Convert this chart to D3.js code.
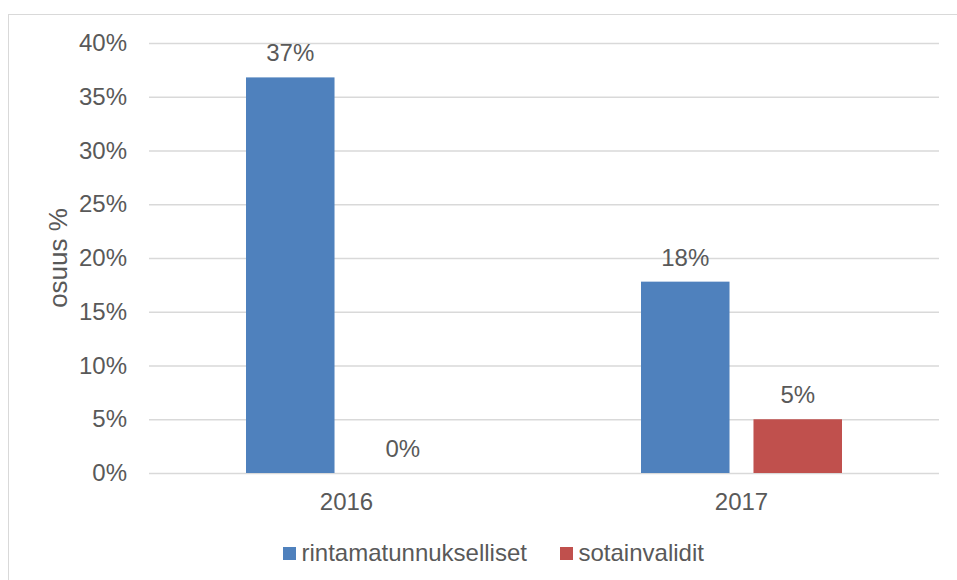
<!DOCTYPE html>
<html>
<head>
<meta charset="utf-8">
<script src="https://cdn.jsdelivr.net/npm/d3@7"></script>
<style>
  body { margin: 0; background: #fff; }
  svg { display: block; }
  text { font-family: "Liberation Sans", Arial, sans-serif; fill: #595959; }
</style>
</head>
<body>
<div id="viz"></div>
<script>
// Data
const years = ["2016", "2017"];
const seriesNames = ["rintamatunnukselliset", "sotainvalidit"];
const rintama = [0.368, 0.178];
const sotainvalidit = [0, 0.05];
const yTicks = [0, 0.05, 0.10, 0.15, 0.20, 0.25, 0.30, 0.35, 0.40];
const colors = ["#4F81BD", "#C0504D"];

// Geometry
const width = 957, height = 580;
const margin = {top: 43, left: 149, right: 18, bottom: 107};
const innerWidth = width - margin.left - margin.right;
const innerHeight = height - margin.top - margin.bottom;
const fontSize = "24px";
const groupWidth = 201;

const svg = d3.select("#viz").append("svg")
  .attr("width", width).attr("height", height);

// chart border (runs off the right and bottom edge)
svg.append("rect")
  .attr("x", 8.5).attr("y", 14.5)
  .attr("width", width + 10).attr("height", height + 10)
  .attr("fill", "none").attr("stroke", "#D9D9D9");

const g = svg.append("g")
  .attr("transform", "translate(" + margin.left + "," + margin.top + ")");

const xScale = d3.scaleBand().domain(years).range([0, innerWidth]);
const xSub = d3.scaleBand().domain(seriesNames)
  .range([0, groupWidth]).paddingInner(0.213);
const yScale = d3.scaleLinear().domain([0, 0.4]).range([innerHeight, 0]);

// gridlines + y labels
const yAxisG = g.append("g")
  .call(d3.axisLeft(yScale).tickValues(yTicks)
    .tickSize(-innerWidth).tickPadding(22)
    .tickFormat(d3.format(".0%")));
yAxisG.select(".domain").remove();
yAxisG.selectAll("line").attr("stroke", "#D9D9D9").attr("stroke-width", 1.3);
yAxisG.selectAll("text").attr("font-size", fontSize).attr("fill", "#595959")
  .attr("font-family", "Liberation Sans, Arial, sans-serif");

// x labels
const xAxisG = g.append("g")
  .attr("transform", "translate(0," + innerHeight + ")")
  .call(d3.axisBottom(xScale).tickSize(0).tickPadding(20));
xAxisG.select(".domain").remove();
xAxisG.selectAll("text").attr("font-size", fontSize).attr("fill", "#595959")
  .attr("font-family", "Liberation Sans, Arial, sans-serif");

// bars
const rows = years.map((y, i) => ({year: y, values: [rintama[i], sotainvalidit[i]]}));
const groups = g.selectAll(".grp").data(rows).enter().append("g")
  .attr("transform", d => "translate(" + (xScale(d.year) + (xScale.bandwidth() - groupWidth) / 2) + ",0)");

groups.selectAll("rect")
  .data(d => d.values.map((v, j) => ({name: seriesNames[j], v: v, j: j})))
  .enter().append("rect")
  .attr("x", d => xSub(d.name))
  .attr("y", d => yScale(d.v))
  .attr("width", xSub.bandwidth())
  .attr("height", d => innerHeight - yScale(d.v))
  .attr("fill", d => colors[d.j]);

groups.selectAll(".lbl")
  .data(d => d.values.map((v, j) => ({name: seriesNames[j], v: v})))
  .enter().append("text")
  .attr("class", "lbl")
  .attr("x", d => xSub(d.name) + xSub.bandwidth() / 2)
  .attr("y", d => yScale(d.v) - 16)
  .attr("text-anchor", "middle")
  .attr("font-size", fontSize)
  .text(d => d3.format(".0%")(d.v));

// y title
svg.append("text")
  .attr("transform", "rotate(-90)")
  .attr("x", -258).attr("y", 67)
  .attr("text-anchor", "middle")
  .attr("font-size", "26px")
  .text("osuus %");

// legend
const legendX = [283, 560];
const legend = svg.selectAll(".leg").data(seriesNames).enter().append("g")
  .attr("transform", (d, i) => "translate(" + legendX[i] + ",547)");
legend.append("rect").attr("width", 13).attr("height", 13)
  .attr("fill", (d, i) => colors[i]);
legend.append("text").attr("x", 18.5).attr("y", 13.5)
  .attr("font-size", fontSize).text(d => d);
</script>
</body>
</html>
